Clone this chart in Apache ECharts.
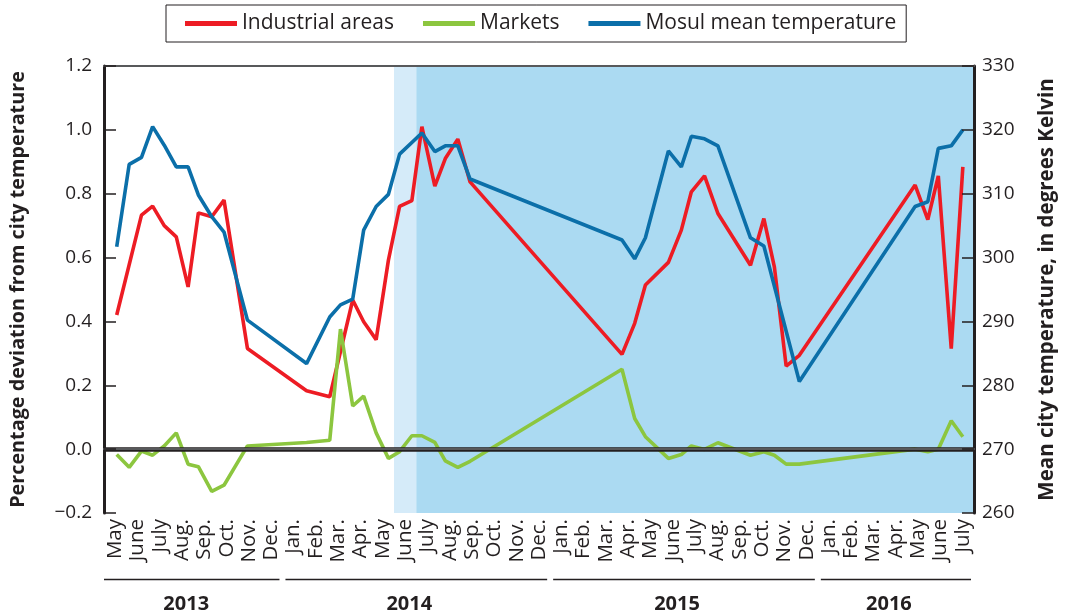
<!DOCTYPE html>
<html><head><meta charset="utf-8">
<script src="https://cdn.jsdelivr.net/npm/echarts@6/dist/echarts.min.js"></script>
<style>html,body{margin:0;padding:0;background:#fff}#c{width:1066px;height:615px}</style>
</head><body><div id="c"></div>
<script>
// Month categories (May 2013 - July 2016)
const monthLabels = ['May','June','July','Aug.','Sep.','Oct.','Nov.','Dec.',
  'Jan.','Feb.','Mar.','Apr.','May','June','July','Aug.','Sep.','Oct.','Nov.','Dec.',
  'Jan.','Feb.','Mar.','Apr.','May','June','July','Aug.','Sep.','Oct.','Nov.','Dec.',
  'Jan.','Feb.','Mar.','Apr.','May','June','July'];
const yearLabels = ['2013','2014','2015','2016'];
const yearMonthCounts = [8, 12, 12, 7];
const leftTicks = [-0.2, 1.2, 0.2];   // min, max, step
const rightTicks = [260, 330, 10];
// Observation positions, in months since 1 May 2013
const obsPos = [0.57,1.13,1.68,2.18,2.70,3.24,3.77,4.23,4.83,5.38,6.43,9.08,10.12,10.6,11.15,11.64,12.2,12.75,13.25,13.8,
  14.25,14.83,15.3,15.86,16.41,23.22,23.79,24.27,25.3,25.88,26.33,26.92,27.52,28.98,29.58,30.05,30.58,31.17,36.36,36.93,37.4,37.98,38.5];
const industrial = [0.42,null,0.733,0.761,0.70,0.665,0.508,0.74,0.728,0.78,0.315,0.183,0.164,null,0.467,0.399,0.343,0.592,0.76,0.778,
  1.01,0.824,0.91,0.971,0.837,0.297,0.394,0.514,0.585,0.686,0.806,0.856,0.738,0.576,0.722,0.571,0.26,0.294,0.827,0.719,0.856,0.315,0.884];
const markets = [-0.017,-0.057,-0.006,-0.019,0.010,0.051,-0.047,-0.055,-0.132,-0.113,0.010,0.021,0.028,0.376,0.135,0.166,0.051,-0.029,-0.008,0.042,
  0.042,0.021,-0.037,-0.057,-0.038,0.25,0.096,0.039,-0.029,-0.017,0.010,-0.001,0.020,-0.019,-0.008,-0.019,-0.047,-0.047,0.0,-0.008,0.0,0.089,0.039];
const mosulTemp = [301.7,314.6,315.7,320.5,317.6,314.2,314.2,309.8,306.4,304.0,290.2,283.4,290.7,292.6,293.5,304.3,308.0,309.9,316.2,null,
  319.5,316.6,317.5,317.5,312.3,302.75,299.8,303.1,316.7,314.2,319.0,318.6,317.5,303.1,301.8,null,null,280.6,308.0,308.75,317.1,317.5,320.0];
// Shaded periods (month positions)
const shadeLight = [13, 14];
const shadeDark = [14, 39];

const FONT = '"Open Sans", "Noto Sans", sans-serif';
const pair = (xs, ys) => xs.map((x, i) => [x, ys[i]]);

const chart = echarts.init(document.getElementById('c'), null, {renderer: 'canvas'});
const option = {
  animation: false,
  textStyle: {fontFamily: FONT, color: '#231f20'},
  grid: {left: 103, right: 91, top: 66, bottom: 102},
  legend: {
    top: 5, left: 166,
    padding: [8, 10, 8, 19],
    borderColor: '#231f20', borderWidth: 1,
    itemWidth: 52, itemHeight: 5, itemGap: 29,
    icon: 'rect',
    textStyle: {fontFamily: FONT, fontSize: 21, color: '#231f20'},
    data: ['Industrial areas', 'Markets', 'Mosul mean temperature']
  },
  xAxis: [
    {
      type: 'category', data: monthLabels, position: 'bottom', z: 10,
      boundaryGap: true,
      axisLine: {lineStyle: {color: '#58595b', width: 2}},
      axisTick: {inside: true, length: 14, alignWithLabel: false, lineStyle: {color: '#58595b', width: 2}},
      axisLabel: {rotate: 90, interval: 0, fontSize: 20.5, color: '#231f20', margin: 6, fontFamily: FONT},
      splitLine: {show: false}
    },
    {
      type: 'value', min: 0, max: shadeDark[1], position: 'top', z: 10,
      axisLine: {show: true, onZero: false, lineStyle: {color: '#58595b', width: 2}},
      axisTick: {show: false}, axisLabel: {show: false}, splitLine: {show: false}
    }
  ],
  yAxis: [
    {
      type: 'value', min: leftTicks[0], max: leftTicks[1], interval: leftTicks[2], z: 10,
      name: 'Percentage deviation from city temperature',
      nameLocation: 'middle', nameRotate: 90, nameGap: 76,
      nameTextStyle: {fontFamily: FONT, fontSize: 19.8, fontWeight: 'bold', color: '#231f20'},
      axisLine: {show: true, onZero: false, lineStyle: {color: '#231f20', width: 3}},
      axisTick: {show: true, inside: true, length: 12, lineStyle: {color: '#231f20', width: 1.5}},
      axisLabel: {fontSize: 19, color: '#231f20', margin: 12, fontFamily: FONT,
        formatter: v => (v < 0 ? '\u2212' : '') + Math.abs(v).toFixed(1)},
      splitLine: {show: false}
    },
    {
      type: 'value', min: rightTicks[0], max: rightTicks[1], interval: rightTicks[2], position: 'right', z: 10,
      name: 'Mean city temperature, in degrees Kelvin',
      nameLocation: 'middle', nameRotate: 90, nameGap: 63,
      nameTextStyle: {fontFamily: FONT, fontSize: 20.5, fontWeight: 'bold', color: '#231f20'},
      axisLine: {show: true, onZero: false, lineStyle: {color: '#231f20', width: 3}},
      axisTick: {show: true, inside: true, length: 12, lineStyle: {color: '#231f20', width: 1.5}},
      axisLabel: {fontSize: 19, color: '#231f20', margin: 8, fontFamily: FONT},
      splitLine: {show: false}
    }
  ],
  series: [
    {
      name: 'shade', type: 'line', xAxisIndex: 1, yAxisIndex: 0, data: [], z: 1, silent: true,
      markArea: {silent: true, data: [
        [{xAxis: shadeLight[0], itemStyle: {color: '#d5ebf9'}}, {xAxis: shadeLight[1]}],
        [{xAxis: shadeDark[0], itemStyle: {color: '#abdaf2'}}, {xAxis: shadeDark[1]}]
      ]},
      markLine: {silent: true, symbol: 'none', label: {show: false},
        lineStyle: {color: '#231f20', width: 4.5, type: 'solid'},
        data: [{yAxis: 0}]}
    },
    {
      name: 'Industrial areas', type: 'line', xAxisIndex: 1, yAxisIndex: 0, z: 3,
      data: pair(obsPos, industrial), connectNulls: true, showSymbol: false, symbol: 'none',
      color: '#ed1c24', lineStyle: {width: 3.6, color: '#ed1c24'}
    },
    {
      name: 'Markets', type: 'line', xAxisIndex: 1, yAxisIndex: 0, z: 4,
      data: pair(obsPos, markets), connectNulls: true, showSymbol: false, symbol: 'none',
      color: '#8cc63f', lineStyle: {width: 3.6, color: '#8cc63f'}
    },
    {
      name: 'Mosul mean temperature', type: 'line', xAxisIndex: 1, yAxisIndex: 1, z: 5,
      data: pair(obsPos, mosulTemp), connectNulls: true, showSymbol: false, symbol: 'none',
      color: '#0b6fa9', lineStyle: {width: 3.6, color: '#0b6fa9'}
    }
  ]
};
chart.setOption(option);

// Year group underlines and labels, positioned through the month scale
const graphics = [];
let start = 0;
const lineY = 579.5, textY = 604;
yearLabels.forEach((y, i) => {
  const end = start + yearMonthCounts[i];
  const x0 = chart.convertToPixel({xAxisIndex: 1}, start);
  const x1 = chart.convertToPixel({xAxisIndex: 1}, end);
  graphics.push({type: 'line', shape: {x1: x0 + (i === 0 ? 0 : 3), y1: lineY, x2: x1 - 3, y2: lineY},
    style: {stroke: '#231f20', lineWidth: 1.5}, silent: true});
  graphics.push({type: 'text', x: (x0 + x1) / 2 - 7, y: textY,
    style: {text: y, fontFamily: FONT, fontSize: 20, fontWeight: 'bold', fill: '#231f20', align: 'center', verticalAlign: 'middle'}, silent: true});
  start = end;
});
chart.setOption({graphic: graphics});
</script></body></html>
